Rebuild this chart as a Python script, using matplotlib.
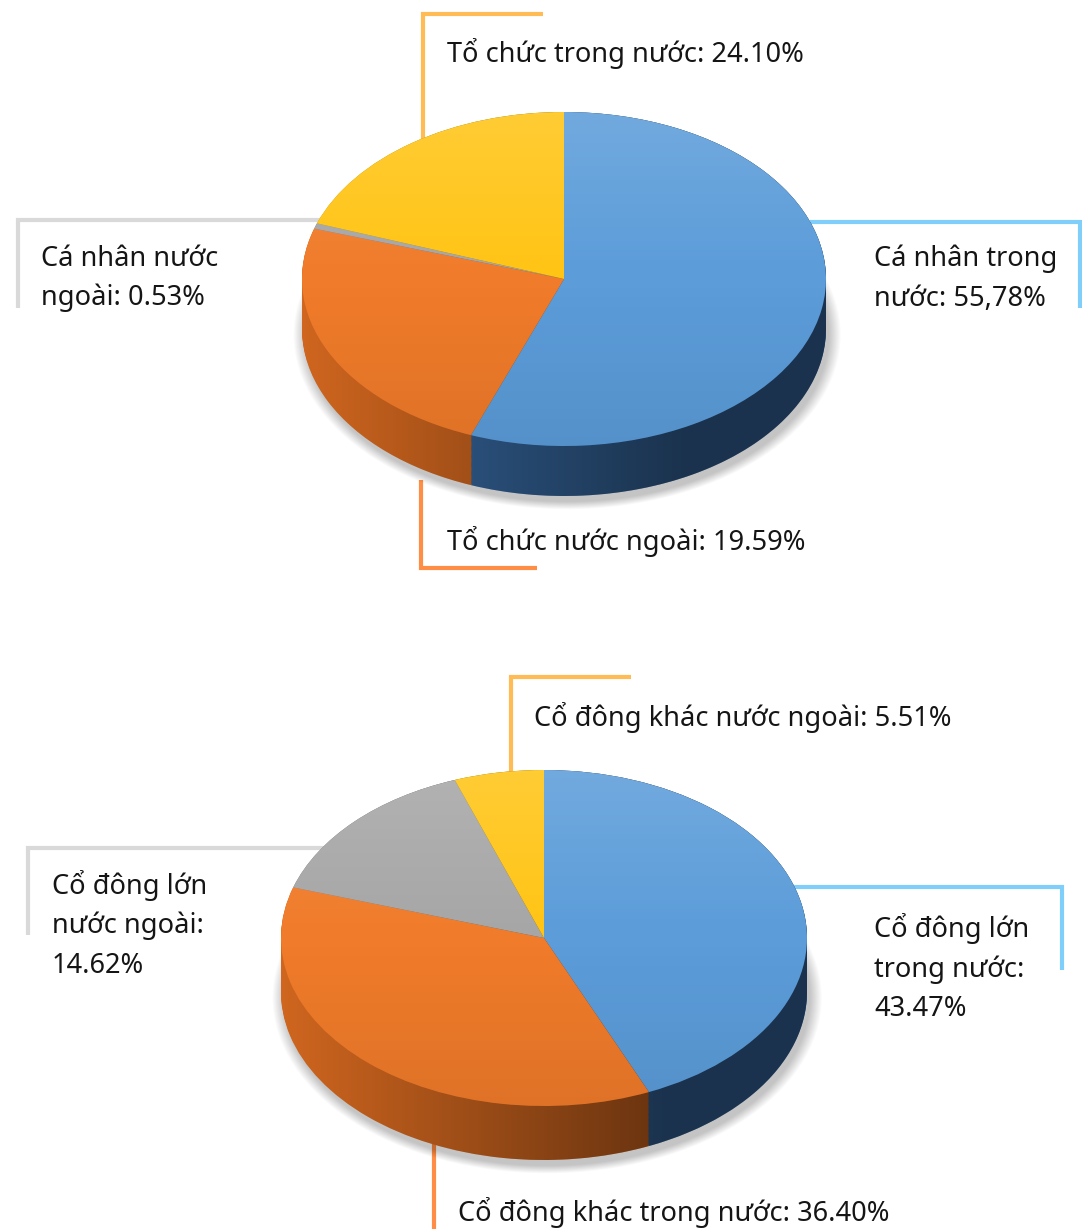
# -*- coding: utf-8 -*-
# Hai biểu đồ tròn 3D: cơ cấu cổ đông
import matplotlib
matplotlib.use("Agg")
import matplotlib.pyplot as plt
import numpy as np
from matplotlib.path import Path
from matplotlib.patches import PathPatch, Ellipse

plt.rcParams['font.family'] = ['Noto Sans', 'DejaVu Sans']

W, H = 1082, 1229

# ------- Dữ liệu (giá trị theo màu lát: xanh, cam, xám, vàng)
ty_le_1 = [55.78, 24.10, 0.53, 19.59]
nhan_1 = ["Cá nhân trong\nnước: 55,78%",
          "Tổ chức nước ngoài: 19.59%",
          "Cá nhân nước\nngoài: 0.53%",
          "Tổ chức trong nước: 24.10%"]

ty_le_2 = [43.47, 36.40, 14.62, 5.51]
nhan_2 = ["Cổ đông lớn\ntrong nước:\n43.47%",
          "Cổ đông khác trong nước: 36.40%",
          "Cổ đông lớn\nnước ngoài:\n14.62%",
          "Cổ đông khác nước ngoài: 5.51%"]

mau_mat = ["#5b9cd9", "#f07b2a", "#a6a6a6", "#ffc414"]
mau_canh = ["#35659b", "#d0661f", "#7a7a7a", "#c29200"]
mau_duong = ["#80cffb", "#ff8d45", "#d9d9d9", "#ffbc55"]

# vị trí chữ (trái, đường cơ sở dòng đầu) và đường dẫn (pixel)
cho_chu_1 = [(874, 266), (447, 550), (41, 266), (447, 62)]
duong_1 = [[(810, 222), (1080, 222), (1080, 308)],
           [(421, 480), (421, 568), (537, 568)],
           [(330, 220), (18, 220), (18, 308)],
           [(543, 14), (423, 14), (423, 150)]]

cho_chu_2 = [(874, 937), (458, 1221), (52, 894), (534, 726)]
duong_2 = [[(790, 887), (1062, 887), (1062, 970)],
           [(434, 1140), (434, 1229)],
           [(330, 848), (28, 848), (28, 935)],
           [(631, 677), (511, 677), (511, 790)]]

fig = plt.figure(figsize=(W / 100, H / 100), dpi=100)

# ------- Nền: đường dẫn và chữ
ax0 = fig.add_axes([0, 0, 1, 1])
ax0.set_xlim(0, W)
ax0.set_ylim(H, 0)
ax0.axis('off')


def ve_nhan(nhan, cho_chu, duong):
    for i in range(len(nhan)):
        xs = [p[0] for p in duong[i]]
        ys = [p[1] for p in duong[i]]
        ax0.plot(xs, ys, color=mau_duong[i], lw=3.0, solid_capstyle='butt',
                 solid_joinstyle='miter')
        x, y = cho_chu[i]
        for j, dong in enumerate(nhan[i].split("\n")):
            ax0.text(x, y + j * 39.5, dong, fontsize=19.6, color="#151515",
                     ha='left', va='baseline')


ve_nhan(nhan_1, cho_chu_1, duong_1)
ve_nhan(nhan_2, cho_chu_2, duong_2)


def ve_banh(ty_le, cx, cy, rx, ry, day):
    ax = fig.add_axes([0, 0, 1, 1])
    t = day / ry

    # bóng mờ phía dưới
    for k in range(12):
        s = 1.0 + 0.004 * k
        ax.add_patch(Ellipse((0.012, -t - 0.035), 2 * s, 2 * s, facecolor="black",
                             alpha=0.02, lw=0, zorder=0.5))

    # thành bên: chồng nhiều lớp
    for k in np.linspace(1, 0, 45):
        ax.pie(ty_le, colors=mau_canh, startangle=90, counterclock=False,
               center=(0, -t * k), radius=1, wedgeprops=dict(linewidth=0))

    # đổ bóng ngang cho thành bên
    xs = np.linspace(-1, 1, 400)
    a = 0.5 * np.clip((xs + 1) / 1.45, 0, 1)
    img = np.zeros((2, 400, 4))
    img[..., 3] = a
    im = ax.imshow(img, extent=(-1.01, 1.01, -1 - t - 0.01, 1.01), aspect='auto',
                   zorder=2, interpolation='bilinear')
    th1 = np.linspace(np.pi, 2 * np.pi, 200)
    th2 = np.linspace(0, np.pi, 200)
    vx = np.concatenate([np.cos(th1), np.cos(th2)])
    vy = np.concatenate([np.sin(th1) - t, np.sin(th2)])
    band = PathPatch(Path(np.column_stack([vx, vy])), transform=ax.transData,
                     fc='none', ec='none')
    ax.add_patch(band)
    im.set_clip_path(band)

    # mặt trên
    w, _ = ax.pie(ty_le, colors=mau_mat, startangle=90, counterclock=False,
                  center=(0, 0), radius=1, wedgeprops=dict(linewidth=0))
    for p in w:
        p.set_zorder(3)

    # ánh sáng mặt trên
    ys = np.linspace(1, -1, 300)
    g = np.zeros((300, 2, 4))
    tren = np.clip(ys, 0, 1)
    duoi = np.clip(-ys, 0, 1)
    g[..., :3] = np.where(ys[:, None, None] > 0, 1.0, 0.0)
    g[..., 3] = (0.14 * tren + 0.07 * duoi)[:, None]
    im2 = ax.imshow(g, extent=(-1, 1, -1, 1), aspect='auto', zorder=4,
                    interpolation='bilinear')
    el = Ellipse((0, 0), 2, 2, transform=ax.transData, fc='none', ec='none')
    ax.add_patch(el)
    im2.set_clip_path(el)

    ax.set_aspect('auto')
    ax.set_xlim(-cx / rx, (W - cx) / rx)
    ax.set_ylim((cy - H) / ry, cy / ry)
    ax.axis('off')


ve_banh(ty_le_1, 564, 279, 262, 167, 50)
ve_banh(ty_le_2, 544, 938, 263, 168, 54)

fig.savefig("out.png", dpi=100)
